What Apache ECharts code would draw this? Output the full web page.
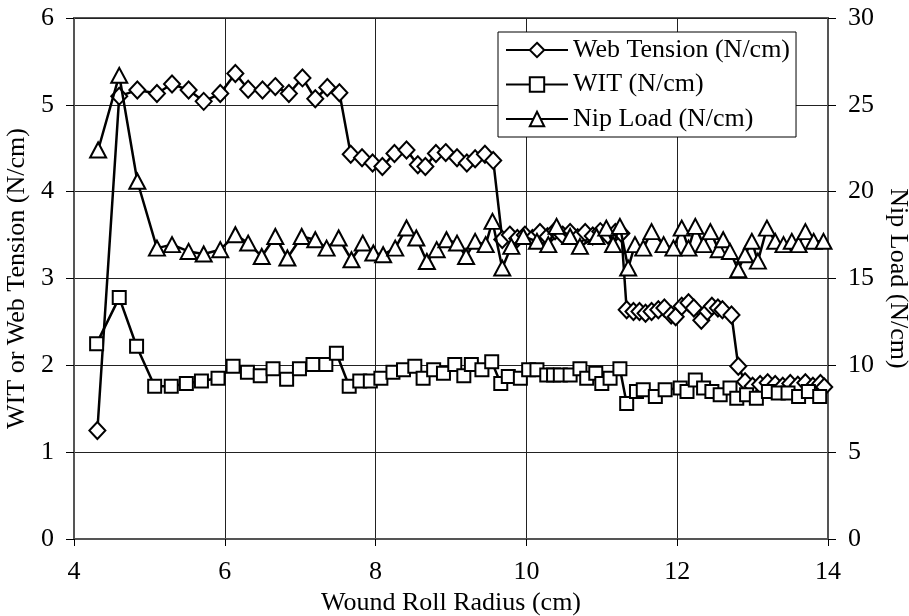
<!DOCTYPE html>
<html>
<head>
<meta charset="utf-8">
<script src="https://cdn.jsdelivr.net/npm/echarts@6/dist/echarts.min.js"></script>
<style>
html,body{margin:0;padding:0;background:#fff;}
#chart{width:909px;height:616px;}
</style>
</head>
<body>
<div id="chart"></div>
<script>
// Web Tension (N/cm) vs wound roll radius (cm)
var webRadius = [4.31,4.60,4.84,5.10,5.30,5.52,5.72,5.94,6.14,6.31,6.50,6.67,6.85,7.03,7.20,7.36,7.52,
  7.67,7.82,7.96,8.09,8.25,8.41,8.56,8.66,8.80,8.93,9.08,9.21,9.32,9.45,9.56,
  9.68,9.78,9.88,9.98,10.08,10.18,10.28,10.38,10.48,10.58,10.68,10.78,10.88,10.98,11.08,11.18,11.26,
  11.33,11.42,11.50,11.58,11.66,11.75,11.83,11.92,11.98,12.06,12.15,12.22,12.32,12.40,12.46,12.54,12.60,12.72,
  12.81,12.90,13.00,13.10,13.20,13.30,13.40,13.50,13.60,13.70,13.80,13.90,13.95];
var webTension = [1.25,5.10,5.17,5.13,5.24,5.17,5.04,5.13,5.36,5.18,5.17,5.21,5.13,5.31,5.07,5.20,5.14,
  4.43,4.39,4.33,4.29,4.44,4.48,4.31,4.29,4.44,4.45,4.39,4.33,4.38,4.43,4.36,
  3.45,3.50,3.46,3.50,3.46,3.53,3.48,3.55,3.50,3.53,3.47,3.53,3.49,3.54,3.50,3.53,3.52,
  2.64,2.62,2.62,2.60,2.62,2.64,2.66,2.58,2.56,2.68,2.72,2.66,2.52,2.62,2.68,2.66,2.64,2.58,
  1.99,1.81,1.76,1.78,1.80,1.78,1.76,1.79,1.77,1.80,1.76,1.79,1.75];

// WIT (N/cm)
var witRadius = [4.30,4.60,4.83,5.07,5.29,5.49,5.69,5.91,6.11,6.30,6.47,6.64,6.82,6.99,7.17,7.34,7.48,
  7.65,7.79,7.93,8.07,8.23,8.37,8.52,8.63,8.77,8.90,9.05,9.17,9.27,9.41,9.54,
  9.66,9.76,9.92,10.03,10.14,10.27,10.36,10.45,10.58,10.71,10.80,10.92,11.00,11.11,11.24,
  11.33,11.46,11.55,11.71,11.84,12.04,12.13,12.24,12.35,12.46,12.57,12.70,12.79,12.92,
  13.05,13.21,13.34,13.47,13.61,13.74,13.89];
var wit = [2.25,2.78,2.22,1.76,1.76,1.79,1.82,1.85,1.99,1.92,1.88,1.96,1.84,1.96,2.01,2.01,2.14,
  1.76,1.82,1.82,1.85,1.92,1.95,1.99,1.85,1.95,1.91,2.01,1.88,2.01,1.95,2.04,
  1.79,1.87,1.85,1.95,1.95,1.89,1.89,1.89,1.89,1.96,1.85,1.91,1.79,1.85,1.96,
  1.56,1.70,1.72,1.64,1.72,1.74,1.70,1.83,1.74,1.70,1.66,1.74,1.62,1.66,
  1.62,1.70,1.68,1.68,1.64,1.70,1.64];

// Nip Load (N/cm)
var nipRadius = [4.32,4.60,4.84,5.10,5.30,5.52,5.72,5.94,6.14,6.31,6.49,6.67,6.83,7.02,7.20,7.35,7.51,
  7.68,7.83,7.97,8.10,8.26,8.41,8.54,8.68,8.81,8.94,9.08,9.20,9.32,9.46,9.55,
  9.68,9.80,9.96,10.14,10.29,10.40,10.58,10.71,10.93,11.06,11.15,11.24,
  11.35,11.44,11.55,11.66,11.82,11.95,12.06,12.15,12.24,12.35,12.44,12.55,12.61,12.70,
  12.81,12.90,12.99,13.07,13.19,13.30,13.41,13.52,13.61,13.70,13.81,13.94];
var nipLoad = [22.4,26.7,20.6,16.75,16.95,16.56,16.41,16.66,17.52,17.04,16.27,17.42,16.18,17.42,17.23,16.75,17.33,
  16.08,17.04,16.47,16.37,16.75,17.91,17.33,15.98,16.66,17.23,17.04,16.27,17.14,16.95,18.29,
  15.6,16.85,17.42,17.14,16.95,18.0,17.42,16.85,17.42,17.9,16.95,18.0,
  15.6,16.95,16.75,17.7,16.95,16.75,17.9,16.75,18.0,16.95,17.7,16.66,17.23,16.56,
  15.5,16.37,17.14,16.0,17.9,17.14,16.95,17.14,16.95,17.7,17.14,17.14];

var xTicks = [4,6,8,10,12,14];

function pairs(xs, ys){ return xs.map(function(x,i){ return [x, ys[i]]; }); }

var FONT = "'Liberation Serif','Times New Roman',serif";
var chart = echarts.init(document.getElementById('chart'), null, {renderer:'canvas'});
chart.setOption({
  animation:false,
  backgroundColor:'#fff',
  textStyle:{fontFamily:FONT, color:'#000'},
  grid:{left:74, right:81, top:18, bottom:77, containLabel:false, outerBoundsMode:'none',
        show:true, borderColor:'#555', borderWidth:2, backgroundColor:'transparent'},
  legend:{
    left:498, top:32, orient:'vertical',
    padding:[5,6,5,7], itemGap:8.5, itemWidth:62, itemHeight:18,
    borderColor:'#000', borderWidth:1, backgroundColor:'#fff',
    textStyle:{fontFamily:FONT, fontSize:26, color:'#000'},
    data:['Web Tension (N/cm)','WIT (N/cm)','Nip Load (N/cm)']
  },
  xAxis:{
    type:'value', min:xTicks[0], max:xTicks[xTicks.length-1], interval:2,
    name:'Wound Roll Radius (cm)', nameLocation:'middle', nameGap:40,
    nameTextStyle:{fontFamily:FONT, fontSize:26, color:'#000'},
    axisLine:{show:true, lineStyle:{color:'#555', width:2}},
    axisTick:{show:true, inside:false, length:7, lineStyle:{color:'#000', width:1}},
    axisLabel:{fontFamily:FONT, fontSize:26, color:'#000', margin:20},
    splitLine:{show:true, lineStyle:{color:'#222', width:1}}
  },
  yAxis:[{
    type:'value', min:0, max:6, interval:1, position:'left',
    name:'WIT or Web Tension (N/cm)', nameLocation:'middle', nameGap:43,
    nameTextStyle:{fontFamily:FONT, fontSize:26, color:'#000'},
    axisLine:{show:true, lineStyle:{color:'#555', width:2}},
    axisTick:{show:true, inside:false, length:8, lineStyle:{color:'#000', width:1}},
    axisLabel:{fontFamily:FONT, fontSize:26, color:'#000', margin:20},
    splitLine:{show:true, lineStyle:{color:'#222', width:1}}
  },{
    type:'value', min:0, max:30, interval:5, position:'right',
    name:'Nip Load (N/cm)', nameLocation:'middle', nameGap:50, nameRotate:-90,
    nameTextStyle:{fontFamily:FONT, fontSize:26, color:'#000'},
    axisLine:{show:true, lineStyle:{color:'#555', width:2}},
    axisTick:{show:true, inside:false, length:8, lineStyle:{color:'#000', width:1}},
    axisLabel:{fontFamily:FONT, fontSize:26, color:'#000', margin:20},
    splitLine:{show:false}
  }],
  series:[{
    name:'Web Tension (N/cm)', type:'line', yAxisIndex:0,
    data:pairs(webRadius, webTension),
    symbol:'emptyDiamond', symbolSize:[16,17],
    lineStyle:{color:'#000', width:2.5},
    itemStyle:{color:'#000', borderColor:'#000', borderWidth:2.8},
    z:2
  },{
    name:'WIT (N/cm)', type:'line', yAxisIndex:0,
    data:pairs(witRadius, wit),
    symbol:'emptyRect', symbolSize:13,
    lineStyle:{color:'#000', width:2.5},
    itemStyle:{color:'#000', borderColor:'#000', borderWidth:2.8},
    z:3
  },{
    name:'Nip Load (N/cm)', type:'line', yAxisIndex:1,
    data:pairs(nipRadius, nipLoad),
    symbol:'emptyTriangle', symbolSize:[16,15],
    lineStyle:{color:'#000', width:2.5},
    itemStyle:{color:'#000', borderColor:'#000', borderWidth:2.8},
    z:4
  }]
});
</script>
</body>
</html>
